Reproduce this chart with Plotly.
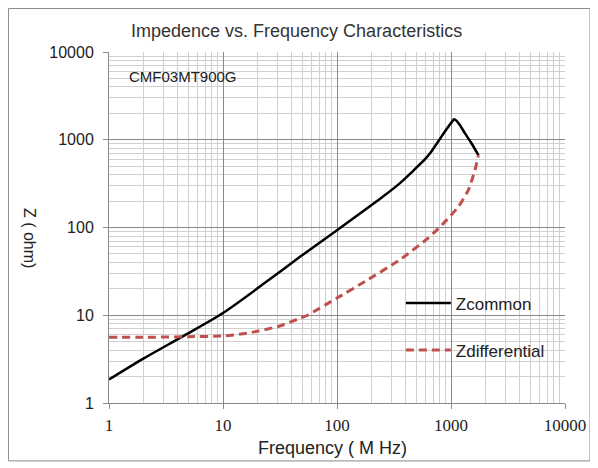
import plotly.graph_objects as go

# ---- data ----
freq_common = [1, 2, 4.6, 10, 25, 47, 100, 250, 357, 464, 592, 655, 774, 860, 950, 1020, 1066, 1120, 1200, 1327, 1516, 1740]
z_common = [1.85, 3.2, 5.9, 10.6, 25, 46, 93, 222, 320, 440, 600, 700, 960, 1180, 1420, 1600, 1710, 1640, 1460, 1180, 907, 668]

freq_diff = [1, 2, 5, 10, 17, 31, 47, 55, 100, 183, 357, 617, 774, 922, 1159, 1419, 1624, 1740]
z_diff = [5.6, 5.6, 5.7, 5.8, 6.3, 7.5, 9.2, 10, 15.7, 25, 43, 74, 97, 123, 172, 267, 451, 668]

x_ticks = [1, 10, 100, 1000, 10000]
y_ticks = [1, 10, 100, 1000, 10000]

title_text = "Impedence vs. Frequency Characteristics"
part_label = "CMF03MT900G"
x_title = "Frequency ( M Hz)"
y_title = "Z ( ohm)"

fig = go.Figure()
fig.add_trace(go.Scatter(x=freq_common, y=z_common, mode="lines", name="Zcommon",
                         legendgroup="a",
                         line=dict(color="black", width=2.5, shape="spline", smoothing=0.8)))
fig.add_trace(go.Scatter(x=freq_diff, y=z_diff, mode="lines", name="Zdifferential",
                         legendgroup="b",
                         line=dict(color="#c0504d", width=3, dash="8px,5px", shape="spline", smoothing=0.5)))

axis_common = dict(
    type="log", dtick=1, showgrid=True, gridcolor="#8a8a8a", gridwidth=1,
    showline=True, linecolor="#8a8a8a", linewidth=1, mirror=False,
    ticks="outside", ticklen=5, tickcolor="#8a8a8a", zeroline=False,
    minor=dict(dtick="D1", showgrid=True, gridcolor="#d0d0d0", gridwidth=1, ticks=""),
)

fig.update_xaxes(**axis_common, range=[0, 4], tickvals=x_ticks,
                 ticktext=[str(v) for v in x_ticks], ticklabelstandoff=2,
                 tickfont=dict(family="Liberation Serif", size=17, color="#222"))
fig.update_yaxes(**axis_common, range=[0, 4], tickvals=y_ticks,
                 ticktext=[str(v) for v in y_ticks], ticklabelstandoff=6,
                 tickfont=dict(family="Liberation Sans", size=16, color="#222"))

fig.update_layout(
    width=590, height=460,
    margin=dict(l=101, r=33, t=44, b=65),
    paper_bgcolor="white", plot_bgcolor="white",
    font=dict(family="Liberation Sans", color="#222"),
    showlegend=True,
    legend=dict(x=0.64, y=0.335, xanchor="left", yanchor="top",
                bgcolor="rgba(0,0,0,0)", font=dict(size=17, color="#222"),
                tracegroupgap=22, itemwidth=45),
    annotations=[
        dict(text=title_text, xref="paper", yref="paper", x=0.412, y=1.06,
             xanchor="center", yanchor="middle", showarrow=False,
             font=dict(size=18, color="#333")),
        dict(text=part_label, xref="paper", yref="paper", x=0.04, y=0.93,
             xanchor="left", yanchor="middle", showarrow=False,
             font=dict(size=15, color="#222")),
        dict(text=x_title, xref="paper", yref="paper", x=0.491, y=-0.128,
             xanchor="center", yanchor="middle", showarrow=False,
             font=dict(size=18, color="#222")),
        dict(text=y_title, xref="paper", yref="paper", x=-0.173, y=0.47,
             xanchor="center", yanchor="middle", showarrow=False, textangle=90,
             font=dict(size=16, color="#222")),
    ],
    shapes=[dict(type="rect", xref="paper", yref="paper",
                 x0=-0.2205, x1=1.0548, y0=-0.165, y1=1.124,
                 line=dict(color="#8a8a8a", width=1), fillcolor="rgba(0,0,0,0)")],
)

fig.write_html("out.html")
